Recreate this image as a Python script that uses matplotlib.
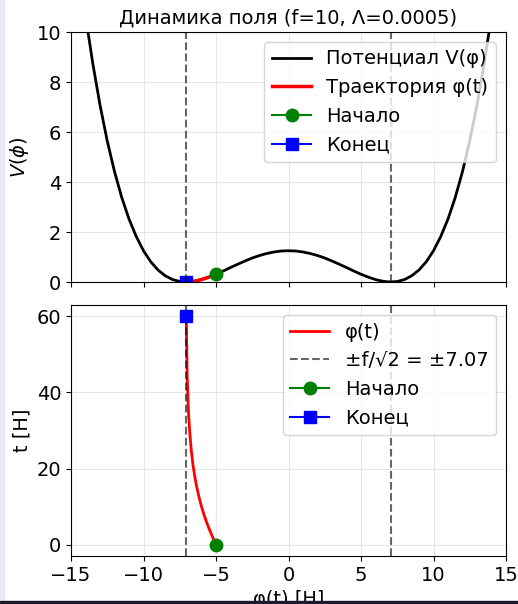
import matplotlib.pyplot as plt
from matplotlib.patches import Rectangle

# potential V(phi)
phi = [-15.0, -14.5, -14.0, -13.5, -13.0, -12.5, -12.0, -11.5, -11.0, -10.5,
       -10.0, -9.5, -9.0, -8.5, -8.0, -7.5, -7.0, -6.5, -6.0, -5.5,
       -5.0, -4.5, -4.0, -3.5, -3.0, -2.5, -2.0, -1.5, -1.0, -0.5,
       0.0, 0.5, 1.0, 1.5, 2.0, 2.5, 3.0, 3.5, 4.0, 4.5,
       5.0, 5.5, 6.0, 6.5, 7.0, 7.5, 8.0, 8.5, 9.0, 9.5,
       10.0, 10.5, 11.0, 11.5, 12.0, 12.5, 13.0, 13.5, 14.0, 14.5, 15.0]
V = [15.31, 12.84, 10.66, 8.75, 7.08, 5.64, 4.42, 3.38, 2.52, 1.82,
     1.25, 0.81, 0.48, 0.25, 0.098, 0.020, 0.0005, 0.030, 0.098, 0.195,
     0.31, 0.44, 0.58, 0.71, 0.84, 0.96, 1.06, 1.14, 1.20, 1.24,
     1.25, 1.24, 1.20, 1.14, 1.06, 0.96, 0.84, 0.71, 0.58, 0.44,
     0.31, 0.195, 0.098, 0.030, 0.0005, 0.020, 0.098, 0.25, 0.48, 0.81,
     1.25, 1.82, 2.52, 3.38, 4.42, 5.64, 7.08, 8.75, 10.66, 12.84, 15.31]

# trajectory phi(t)
t = [0, 2, 4, 6, 8, 10, 12, 15, 18, 21, 25, 30, 35, 40, 45, 50, 55, 60]
phi_t = [-5.00, -5.24, -5.46, -5.66, -5.84, -6.00, -6.14, -6.32, -6.47, -6.59,
         -6.71, -6.82, -6.90, -6.95, -6.99, -7.01, -7.03, -7.05]
V_t = [0.3125, 0.254, 0.204, 0.161, 0.126, 0.098, 0.076, 0.051, 0.033, 0.022,
       0.012, 0.006, 0.003, 0.0014, 0.0007, 0.0004, 0.0002, 0.00004]

phi_min = 7.07
fs = 14
plt.rcParams['font.size'] = fs

fig = plt.figure(figsize=(5.18, 6.04), dpi=100)
ax1 = fig.add_axes([71/518, 1-282/604, 435/518, 250/604])
ax2 = fig.add_axes([71/518, 1-556/604, 435/518, 251/604], sharex=ax1)

# upper panel
ax1.plot(phi, V, color='black', lw=2, label='Потенциал V(φ)')
ax1.plot(phi_t, V_t, color='red', lw=2.5, label='Траектория φ(t)')
ax1.plot(phi_t[0], V_t[0], 'o-', color='green', ms=9, label='Начало')
ax1.plot(phi_t[-1], V_t[-1], 's-', color='blue', ms=9, label='Конец')
ax1.axvline(-phi_min, color='black', ls='--', alpha=0.6, lw=1.5)
ax1.axvline(phi_min, color='black', ls='--', alpha=0.6, lw=1.5)
ax1.set_ylim(0, 10)
ax1.set_xlim(-15, 15)
ax1.set_ylabel(r'$V(\phi)$')
ax1.set_title('Динамика поля (f=10, Λ=0.0005)', fontsize=fs)
ax1.grid(True, alpha=0.3)
ax1.legend(loc='upper right')
ax1.tick_params(labelbottom=False)

# lower panel
ax2.plot(phi_t, t, color='red', lw=2, label='φ(t)')
ax2.axvline(-phi_min, color='black', ls='--', alpha=0.6, lw=1.5,
            label='±f/√2 = ±7.07')
ax2.axvline(phi_min, color='black', ls='--', alpha=0.6, lw=1.5)
ax2.plot(phi_t[0], t[0], 'o-', color='green', ms=9, label='Начало')
ax2.plot(phi_t[-1], t[-1], 's-', color='blue', ms=9, label='Конец')
ax2.set_xlim(-15, 15)
ax2.set_xlabel('φ(t) [H]')
ax2.set_ylabel('t [H]')
ax2.grid(True, alpha=0.3)
ax2.legend(loc='upper right')

# screenshot edges
fig.patches.append(Rectangle((0, 0), 4/518, 1, transform=fig.transFigure,
                             color='#ece8f4', zorder=0))
fig.patches.append(Rectangle((0, 0), 1, 3/604, transform=fig.transFigure,
                             color='#1c1a2e', zorder=5))

fig.savefig('out.png', dpi=100)
